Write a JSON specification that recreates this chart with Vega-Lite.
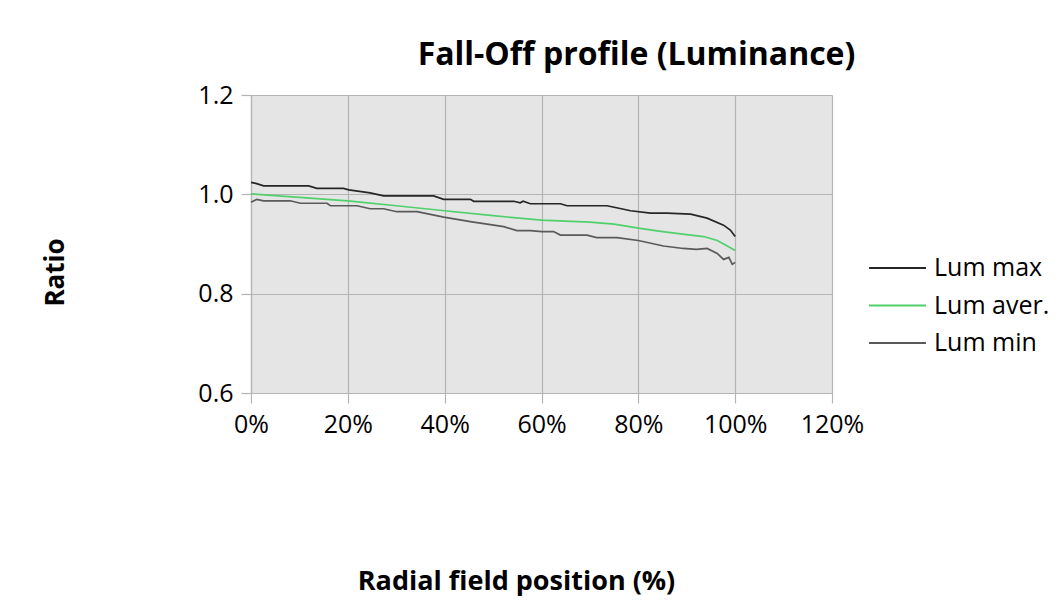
{
  "$schema": "https://vega.github.io/schema/vega-lite/v6.json",
  "autosize": "none",
  "width": 581,
  "height": 298,
  "padding": {"left": 251, "top": 95, "right": 232, "bottom": 215},
  "background": "white",
  "title": {
    "text": "Fall-Off profile (Luminance)",
    "font": "Open Sans",
    "fontSize": 32,
    "fontWeight": "bold",
    "color": "#000000",
    "anchor": "middle",
    "frame": "group",
    "dx": 95,
    "offset": 11
  },
  "config": {
    "view": {"stroke": null, "fill": "#e5e5e5"},
    "axis": {
      "labelFont": "Open Sans",
      "labelFontSize": 25,
      "labelColor": "#000000",
      "titleFont": "Open Sans",
      "titleColor": "#000000",
      "titleFontWeight": "bold",
      "gridColor": "#b4b4b4",
      "gridWidth": 1.2,
      "gridOpacity": 1,
      "domainColor": "#b4b4b4",
      "domainWidth": 1.2,
      "tickColor": "#b4b4b4",
      "tickWidth": 1.2,
      "tickSize": 10
    }
  },
  "data": {
    "values": [
      {"series": "Lum max", "pos": 0.000, "ratio": 1.024},
      {"series": "Lum max", "pos": 0.010, "ratio": 1.022},
      {"series": "Lum max", "pos": 0.026, "ratio": 1.017},
      {"series": "Lum max", "pos": 0.119, "ratio": 1.017},
      {"series": "Lum max", "pos": 0.136, "ratio": 1.012},
      {"series": "Lum max", "pos": 0.191, "ratio": 1.012},
      {"series": "Lum max", "pos": 0.202, "ratio": 1.009},
      {"series": "Lum max", "pos": 0.246, "ratio": 1.003},
      {"series": "Lum max", "pos": 0.274, "ratio": 0.997},
      {"series": "Lum max", "pos": 0.377, "ratio": 0.997},
      {"series": "Lum max", "pos": 0.398, "ratio": 0.990},
      {"series": "Lum max", "pos": 0.453, "ratio": 0.990},
      {"series": "Lum max", "pos": 0.460, "ratio": 0.986},
      {"series": "Lum max", "pos": 0.543, "ratio": 0.986},
      {"series": "Lum max", "pos": 0.556, "ratio": 0.983},
      {"series": "Lum max", "pos": 0.562, "ratio": 0.986},
      {"series": "Lum max", "pos": 0.577, "ratio": 0.981},
      {"series": "Lum max", "pos": 0.639, "ratio": 0.981},
      {"series": "Lum max", "pos": 0.653, "ratio": 0.977},
      {"series": "Lum max", "pos": 0.735, "ratio": 0.977},
      {"series": "Lum max", "pos": 0.760, "ratio": 0.972},
      {"series": "Lum max", "pos": 0.784, "ratio": 0.967},
      {"series": "Lum max", "pos": 0.825, "ratio": 0.962},
      {"series": "Lum max", "pos": 0.859, "ratio": 0.962},
      {"series": "Lum max", "pos": 0.908, "ratio": 0.960},
      {"series": "Lum max", "pos": 0.942, "ratio": 0.952},
      {"series": "Lum max", "pos": 0.976, "ratio": 0.938},
      {"series": "Lum max", "pos": 0.990, "ratio": 0.928},
      {"series": "Lum max", "pos": 1.000, "ratio": 0.915},
      {"series": "Lum aver.", "pos": 0.000, "ratio": 1.001},
      {"series": "Lum aver.", "pos": 0.100, "ratio": 0.994},
      {"series": "Lum aver.", "pos": 0.200, "ratio": 0.987},
      {"series": "Lum aver.", "pos": 0.300, "ratio": 0.977},
      {"series": "Lum aver.", "pos": 0.400, "ratio": 0.967},
      {"series": "Lum aver.", "pos": 0.500, "ratio": 0.957},
      {"series": "Lum aver.", "pos": 0.600, "ratio": 0.948},
      {"series": "Lum aver.", "pos": 0.700, "ratio": 0.944},
      {"series": "Lum aver.", "pos": 0.750, "ratio": 0.940},
      {"series": "Lum aver.", "pos": 0.800, "ratio": 0.932},
      {"series": "Lum aver.", "pos": 0.850, "ratio": 0.925},
      {"series": "Lum aver.", "pos": 0.900, "ratio": 0.919},
      {"series": "Lum aver.", "pos": 0.935, "ratio": 0.915},
      {"series": "Lum aver.", "pos": 0.963, "ratio": 0.907},
      {"series": "Lum aver.", "pos": 0.980, "ratio": 0.898},
      {"series": "Lum aver.", "pos": 1.000, "ratio": 0.887},
      {"series": "Lum min", "pos": 0.000, "ratio": 0.984},
      {"series": "Lum min", "pos": 0.012, "ratio": 0.990},
      {"series": "Lum min", "pos": 0.026, "ratio": 0.987},
      {"series": "Lum min", "pos": 0.081, "ratio": 0.987},
      {"series": "Lum min", "pos": 0.102, "ratio": 0.982},
      {"series": "Lum min", "pos": 0.157, "ratio": 0.982},
      {"series": "Lum min", "pos": 0.164, "ratio": 0.977},
      {"series": "Lum min", "pos": 0.219, "ratio": 0.977},
      {"series": "Lum min", "pos": 0.246, "ratio": 0.971},
      {"series": "Lum min", "pos": 0.274, "ratio": 0.971},
      {"series": "Lum min", "pos": 0.301, "ratio": 0.965},
      {"series": "Lum min", "pos": 0.343, "ratio": 0.965},
      {"series": "Lum min", "pos": 0.398, "ratio": 0.954},
      {"series": "Lum min", "pos": 0.453, "ratio": 0.945},
      {"series": "Lum min", "pos": 0.522, "ratio": 0.935},
      {"series": "Lum min", "pos": 0.549, "ratio": 0.927},
      {"series": "Lum min", "pos": 0.577, "ratio": 0.927},
      {"series": "Lum min", "pos": 0.601, "ratio": 0.925},
      {"series": "Lum min", "pos": 0.625, "ratio": 0.925},
      {"series": "Lum min", "pos": 0.639, "ratio": 0.918},
      {"series": "Lum min", "pos": 0.694, "ratio": 0.918},
      {"series": "Lum min", "pos": 0.714, "ratio": 0.913},
      {"series": "Lum min", "pos": 0.756, "ratio": 0.913},
      {"series": "Lum min", "pos": 0.800, "ratio": 0.907},
      {"series": "Lum min", "pos": 0.852, "ratio": 0.896},
      {"series": "Lum min", "pos": 0.893, "ratio": 0.891},
      {"series": "Lum min", "pos": 0.920, "ratio": 0.889},
      {"series": "Lum min", "pos": 0.942, "ratio": 0.891},
      {"series": "Lum min", "pos": 0.963, "ratio": 0.881},
      {"series": "Lum min", "pos": 0.976, "ratio": 0.869},
      {"series": "Lum min", "pos": 0.987, "ratio": 0.873},
      {"series": "Lum min", "pos": 0.994, "ratio": 0.859},
      {"series": "Lum min", "pos": 1.000, "ratio": 0.863}
    ]
  },
  "mark": {"type": "line", "strokeWidth": 1.7, "interpolate": "linear"},
  "encoding": {
    "x": {
      "field": "pos",
      "type": "quantitative",
      "scale": {"domain": [0, 1.2], "nice": false, "zero": false},
      "axis": {
        "values": [0, 0.2, 0.4, 0.6, 0.8, 1.0, 1.2],
        "format": ".0%",
        "labelPadding": 9,
        "labelFlush": false,
        "title": "Radial field position (%)",
        "titleFontSize": 27,
        "titleX": 265,
        "titleY": 196,
        "titleAlign": "center",
        "titleBaseline": "alphabetic",
        "titleAnchor": null
      }
    },
    "y": {
      "field": "ratio",
      "type": "quantitative",
      "scale": {"domain": [0.6, 1.2], "nice": false, "zero": false},
      "axis": {
        "values": [0.6, 0.8, 1.0, 1.2],
        "format": ".1f",
        "labelPadding": 8,
        "labelFlush": false,
        "title": "Ratio",
        "titleFontSize": 26,
        "titleX": -196,
        "titleY": 177,
        "titleAngle": 270,
        "titleAlign": "center",
        "titleBaseline": "middle",
        "titleAnchor": null
      }
    },
    "color": {
      "field": "series",
      "type": "nominal",
      "sort": ["Lum max", "Lum aver.", "Lum min"],
      "scale": {
        "domain": ["Lum max", "Lum aver.", "Lum min"],
        "range": ["#262626", "#4fd06a", "#5a5a5a"]
      },
      "legend": {
        "orient": "none",
        "legendX": 617,
        "legendY": 160,
        "title": null,
        "symbolType": "stroke",
        "symbolSize": 3249,
        "symbolStrokeWidth": 2,
        "labelFont": "Open Sans",
        "labelFontSize": 25,
        "labelColor": "#000000",
        "labelOffset": 7,
        "clipHeight": 26,
        "rowPadding": 11.5
      }
    }
  }
}
